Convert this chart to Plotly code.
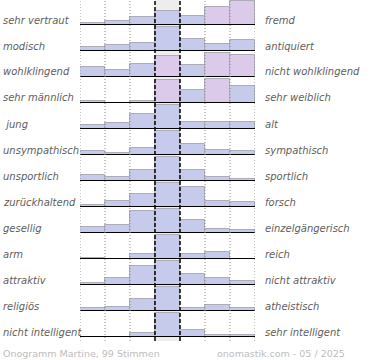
import plotly.graph_objects as go

left_labels = ["sehr vertraut", "modisch", "wohlklingend", "sehr männlich", "\u00a0jung",
               "unsympathisch", "unsportlich", "zurückhaltend", "gesellig", "arm",
               "attraktiv", "religiös", "nicht intelligent"]
right_labels = ["fremd", "antiquiert", "nicht wohlklingend", "sehr weiblich", "alt",
                "sympathisch", "sportlich", "forsch", "einzelgängerisch", "reich",
                "nicht attraktiv", "atheistisch", "sehr intelligent"]

# estimated votes per scale step (7 steps), 99 votes per row
votes_1 = [3, 5, 10, 18, 11, 22, 30]
votes_2 = [6, 8, 11, 33, 16, 10, 15]
votes_3 = [9, 6, 12, 19, 11, 22, 20]
votes_4 = [2, 0, 3, 28, 16, 29, 21]
votes_5 = [5, 9, 21, 34, 10, 10, 10]
votes_6 = [7, 3, 13, 42, 19, 8, 7]
votes_7 = [10, 7, 17, 38, 17, 7, 3]
votes_8 = [2, 8, 17, 31, 26, 8, 7]
votes_9 = [7, 10, 27, 30, 16, 5, 4]
votes_10 = [3, 0, 12, 56, 11, 17, 0]
votes_11 = [3, 10, 25, 32, 15, 9, 5]
votes_12 = [5, 7, 22, 44, 5, 11, 5]
votes_13 = [0, 1, 11, 62, 17, 4, 4]
rows = [votes_1, votes_2, votes_3, votes_4, votes_5, votes_6, votes_7,
        votes_8, votes_9, votes_10, votes_11, votes_12, votes_13]

# cells drawn in pink tone (row index, step index)
pink_cells = {(0, 5), (0, 6), (2, 3), (2, 5), (2, 6), (3, 3), (3, 5)}

footer_left = "Onogramm Martine, 99 Stimmen"
footer_right = "onomastik.com - 05 / 2025"

W, H = 370, 360
BLUE = "#c6cbeb"
PINK = "#dccaea"
LABEL = "#5e5e5e"
FONT = "DejaVu Sans"

fig = go.Figure()
layout_axes = {}
shapes = []
annotations = []

steps = list(range(7))
for i, vals in enumerate(rows):
    base = 25 + 26 * i
    top = max(base - 26, 0)
    hpx = base - top
    d0 = 1 - base / H
    d1 = 1 - top / H
    ymax = max(vals) * hpx / 24.0
    yname = "y" if i == 0 else f"y{i+1}"
    lname = "yaxis" if i == 0 else f"yaxis{i+1}"
    layout_axes[lname] = dict(domain=[d0, d1], range=[0, ymax], visible=False,
                              fixedrange=True, anchor="x")
    colors = [PINK if (i, j) in pink_cells else BLUE for j in steps]
    fig.add_trace(go.Bar(x=steps, y=vals, width=1, xaxis="x", yaxis=yname,
                         marker=dict(color=colors, line=dict(color="#adadba", width=1)),
                         showlegend=False, hoverinfo="skip"))
    shapes.append(dict(type="line", xref="x", yref=yname, x0=-0.5, x1=6.5, y0=0, y1=0,
                       line=dict(color="black", width=2), layer="above"))
    ylab = 1 - (base - 5) / H
    annotations.append(dict(text="<i>" + left_labels[i] + "</i>", xref="paper", yref="paper",
                            x=1 / W, y=ylab, xanchor="left", yanchor="middle", showarrow=False,
                            font=dict(family=FONT, size=10, color=LABEL)))
    annotations.append(dict(text="<i>" + right_labels[i] + "</i>", xref="paper", yref="paper",
                            x=263 / W, y=ylab, xanchor="left", yanchor="middle", showarrow=False,
                            font=dict(family=FONT, size=10, color=LABEL)))

ybot = 1 - 341 / H
# gray middle column background
shapes.append(dict(type="rect", xref="x", yref="paper", x0=2.5, x1=3.5, y0=ybot, y1=1,
                   fillcolor="#ededed", line=dict(width=0), layer="below"))
for xv in [-0.5, 0.5, 1.5, 4.5, 5.5, 6.5]:
    shapes.append(dict(type="line", xref="x", yref="paper", x0=xv, x1=xv, y0=ybot, y1=1,
                       line=dict(color="#8a8a8a", width=1, dash="1px,2px"), layer="above"))
for xv in [2.5, 3.5]:
    shapes.append(dict(type="line", xref="x", yref="paper", x0=xv, x1=xv, y0=ybot, y1=1,
                       line=dict(color="black", width=1.5, dash="4px,2px"), layer="above"))

annotations.append(dict(text=footer_left, xref="paper", yref="paper", x=1 / W, y=1 - 353 / H,
                        xanchor="left", yanchor="middle", showarrow=False,
                        font=dict(family=FONT, size=9.5, color="#bdbdbd")))
annotations.append(dict(text=footer_right, xref="paper", yref="paper", x=347 / W, y=1 - 353 / H,
                        xanchor="right", yanchor="middle", showarrow=False,
                        font=dict(family=FONT, size=9.5, color="#bdbdbd")))

fig.update_layout(
    width=W, height=H, margin=dict(l=0, r=0, t=0, b=0),
    paper_bgcolor="white", plot_bgcolor="rgba(0,0,0,0)",
    xaxis=dict(domain=[80 / W, 255 / W], range=[-0.5, 6.5], visible=False, fixedrange=True),
    bargap=0, shapes=shapes, annotations=annotations, showlegend=False,
    **layout_axes,
)
fig.write_html("out.html", config={"displayModeBar": False},
               post_script="document.body.style.margin='0px';document.body.style.overflow='hidden';")
